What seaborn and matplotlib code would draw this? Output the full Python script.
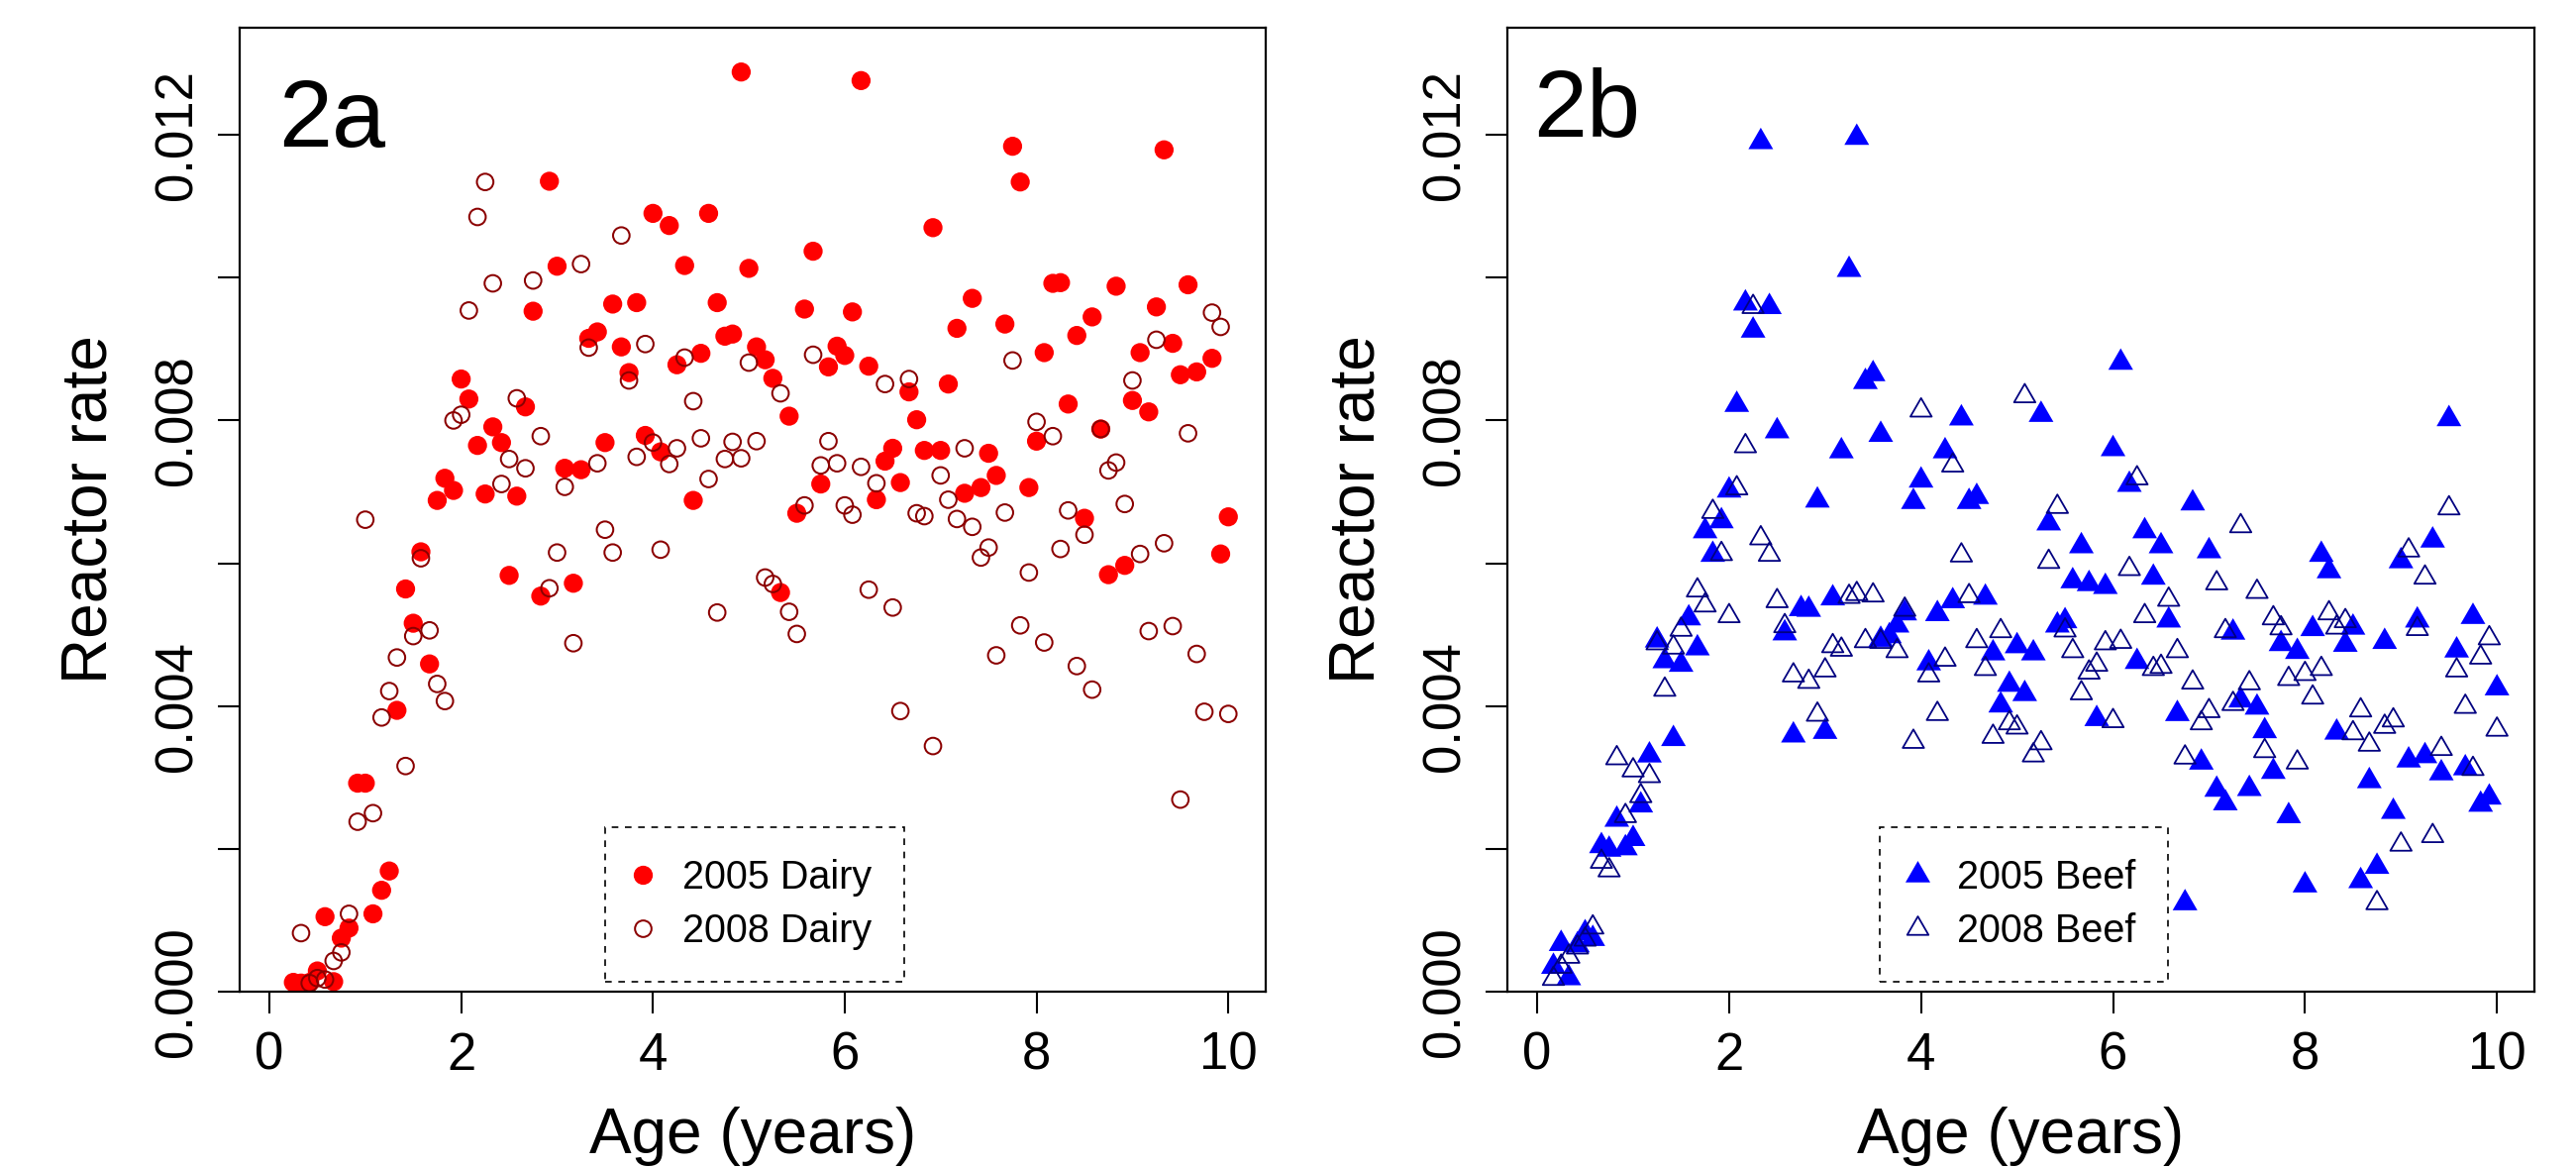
import numpy as np
import pandas as pd
import matplotlib
matplotlib.use("Agg")
import matplotlib.pyplot as plt
from matplotlib.lines import Line2D
from matplotlib.markers import MarkerStyle
from matplotlib.path import Path
import seaborn as sns

sns.set_style("ticks")
plt.rcParams['font.family'] = ['Liberation Sans', 'DejaVu Sans']
plt.rcParams.update({'text.color': 'black', 'axes.labelcolor': 'black',
                     'xtick.color': 'black', 'ytick.color': 'black',
                     'axes.edgecolor': 'black'})

# ---- data (rates read in units of 0.001) ----
dairy05_age = [0.25, 0.33, 0.42, 0.50, 0.58, 0.67, 0.75, 0.83, 0.92, 1.00,
               1.08, 1.17, 1.25, 1.33, 1.42, 1.50, 1.58, 1.67, 1.75, 1.83,
               1.92, 2.00, 2.08, 2.17, 2.25, 2.33, 2.42, 2.50, 2.58, 2.67,
               2.75, 2.83, 2.92, 3.00, 3.08, 3.17, 3.25, 3.33, 3.42, 3.50,
               3.58, 3.67, 3.75, 3.83, 3.92, 4.00, 4.08, 4.17, 4.25, 4.33,
               4.42, 4.50, 4.58, 4.67, 4.75, 4.83, 4.92, 5.00, 5.08, 5.17,
               5.25, 5.33, 5.42, 5.50, 5.58, 5.67, 5.75, 5.83, 5.92, 6.00,
               6.08, 6.17, 6.25, 6.33, 6.42, 6.50, 6.58, 6.67, 6.75, 6.83,
               6.92, 7.00, 7.08, 7.17, 7.25, 7.33, 7.42, 7.50, 7.58, 7.67,
               7.75, 7.83, 7.92, 8.00, 8.08, 8.17, 8.25, 8.33, 8.42, 8.50,
               8.58, 8.67, 8.75, 8.83, 8.92, 9.00, 9.08, 9.17, 9.25, 9.33,
               9.42, 9.50, 9.58, 9.67, 9.83, 9.92, 10.00]
dairy05_rate = [0.13, 0.12, 0.13, 0.29, 1.05, 0.14, 0.75, 0.89, 2.92, 2.92,
                1.09, 1.42, 1.69, 3.94, 5.64, 5.16, 6.16, 4.59, 6.88, 7.19,
                7.02, 8.58, 8.30, 7.65, 6.97, 7.91, 7.69, 5.83, 6.94, 8.19,
                9.53, 5.54, 11.35, 10.16, 7.33, 5.72, 7.31, 9.15, 9.24, 7.69,
                9.63, 9.03, 8.67, 9.65, 7.79, 10.90, 7.56, 10.73, 8.78, 10.17,
                6.88, 8.94, 10.90, 9.65, 9.18, 9.21, 12.88, 10.13, 9.03, 8.85,
                8.59, 5.59, 8.06, 6.70, 9.56, 10.37, 7.11, 8.75, 9.04, 8.91,
                9.52, 12.76, 8.76, 6.89, 7.43, 7.61, 7.13, 8.40, 8.01, 7.58,
                10.70, 7.58, 8.51, 9.29, 6.98, 9.71, 7.06, 7.54, 7.23, 9.35,
                11.84, 11.34, 7.06, 7.71, 8.95, 9.92, 9.93, 8.23, 9.19, 6.63,
                9.45, 7.88, 5.84, 9.88, 5.97, 8.28, 8.95, 8.12, 9.59, 11.79,
                9.08, 8.64, 9.90, 8.68, 8.87, 6.13, 6.65]

dairy08_age = [0.33, 0.42, 0.50, 0.58, 0.67, 0.75, 0.83, 0.92, 1.00, 1.08,
               1.17, 1.25, 1.33, 1.42, 1.50, 1.58, 1.67, 1.75, 1.83, 1.92,
               2.00, 2.08, 2.17, 2.25, 2.33, 2.42, 2.50, 2.58, 2.67, 2.75,
               2.83, 2.92, 3.00, 3.08, 3.17, 3.25, 3.33, 3.42, 3.50, 3.58,
               3.67, 3.75, 3.83, 3.92, 4.00, 4.08, 4.17, 4.25, 4.33, 4.42,
               4.50, 4.58, 4.67, 4.75, 4.83, 4.92, 5.00, 5.08, 5.17, 5.25,
               5.33, 5.42, 5.50, 5.58, 5.67, 5.75, 5.83, 5.92, 6.00, 6.08,
               6.17, 6.25, 6.33, 6.42, 6.50, 6.58, 6.67, 6.75, 6.83, 6.92,
               7.00, 7.08, 7.17, 7.25, 7.33, 7.42, 7.50, 7.58, 7.67, 7.75,
               7.83, 7.92, 8.00, 8.08, 8.17, 8.25, 8.33, 8.42, 8.50, 8.58,
               8.67, 8.75, 8.83, 8.92, 9.00, 9.08, 9.17, 9.25, 9.33, 9.42,
               9.50, 9.58, 9.67, 9.75, 9.83, 9.92, 10.00]
dairy08_rate = [0.82, 0.12, 0.19, 0.17, 0.43, 0.55, 1.09, 2.38, 6.61, 2.50,
                3.84, 4.21, 4.68, 3.16, 4.98, 6.07, 5.06, 4.31, 4.07, 8.00,
                8.08, 9.54, 10.85, 11.34, 9.92, 7.11, 7.46, 8.31, 7.33, 9.96,
                7.78, 5.65, 6.15, 7.07, 4.88, 10.19, 9.02, 7.40, 6.47, 6.15,
                10.59, 8.56, 7.49, 9.07, 7.69, 6.19, 7.39, 7.61, 8.88, 8.27,
                7.75, 7.18, 5.31, 7.46, 7.70, 7.47, 8.81, 7.71, 5.80, 5.71,
                8.38, 5.32, 5.01, 6.81, 8.92, 7.37, 7.71, 7.40, 6.81, 6.68,
                7.35, 5.63, 7.12, 8.51, 5.38, 3.93, 8.58, 6.70, 6.66, 3.44,
                7.23, 6.89, 6.62, 7.61, 6.51, 6.08, 6.22, 4.71, 6.71, 8.84,
                5.13, 5.87, 7.98, 4.89, 7.78, 6.20, 6.74, 4.56, 6.40, 4.23,
                7.88, 7.30, 7.41, 6.83, 8.56, 6.13, 5.05, 9.13, 6.28, 5.12,
                2.69, 7.82, 4.73, 3.92, 9.51, 9.31, 3.89]

beef05_age = [0.17, 0.25, 0.33, 0.42, 0.50, 0.58, 0.67, 0.75, 0.83, 0.92,
              1.00, 1.08, 1.17, 1.25, 1.33, 1.42, 1.50, 1.58, 1.67, 1.75,
              1.83, 1.92, 2.00, 2.08, 2.17, 2.25, 2.33, 2.42, 2.50, 2.58,
              2.67, 2.75, 2.83, 2.92, 3.00, 3.08, 3.17, 3.25, 3.33, 3.42,
              3.50, 3.58, 3.58, 3.67, 3.75, 3.83, 3.92, 4.00, 4.08, 4.17,
              4.25, 4.33, 4.42, 4.50, 4.58, 4.67, 4.75, 4.83, 4.92, 5.00,
              5.08, 5.17, 5.25, 5.33, 5.42, 5.50, 5.58, 5.67, 5.75, 5.83,
              5.92, 6.00, 6.08, 6.17, 6.25, 6.33, 6.42, 6.50, 6.58, 6.67,
              6.75, 6.83, 6.92, 7.00, 7.08, 7.17, 7.25, 7.33, 7.42, 7.50,
              7.58, 7.67, 7.75, 7.83, 7.92, 8.00, 8.08, 8.17, 8.25, 8.33,
              8.42, 8.50, 8.58, 8.67, 8.75, 8.83, 8.92, 9.00, 9.08, 9.17,
              9.25, 9.33, 9.42, 9.50, 9.58, 9.67, 9.75, 9.83, 9.92, 10.00]
beef05_rate = [0.35, 0.67, 0.19, 0.65, 0.82, 0.74, 2.04, 1.99, 2.41, 2.01,
               2.14, 2.61, 3.31, 4.92, 4.63, 3.54, 4.58, 5.23, 4.81, 6.45,
               6.12, 6.59, 7.02, 8.22, 9.64, 9.26, 11.90, 9.59, 7.85, 5.02,
               3.59, 5.36, 5.35, 6.88, 3.64, 5.51, 7.57, 10.11, 11.96, 8.54,
               8.65, 7.80, 4.93, 4.98, 5.13, 5.30, 6.86, 7.16, 4.60, 5.29,
               7.57, 5.47, 8.03, 6.86, 6.93, 5.52, 4.74, 4.01, 4.30, 4.84,
               4.17, 4.74, 8.08, 6.56, 5.13, 5.19, 5.75, 6.24, 5.71, 3.82,
               5.67, 7.60, 8.81, 7.10, 4.62, 6.45, 5.80, 6.24, 5.20, 3.89,
               1.24, 6.84, 3.21, 6.17, 2.83, 2.64, 5.03, 4.08, 2.84, 3.98,
               3.65, 3.08, 4.87, 2.46, 4.76, 1.49, 5.08, 6.12, 5.89, 3.63,
               4.86, 5.10, 1.55, 2.95, 1.75, 4.90, 2.52, 6.03, 3.24, 5.20,
               3.30, 6.32, 3.06, 8.02, 4.78, 3.13, 5.25, 2.62, 2.72, 4.25]

beef08_age = [0.17, 0.25, 0.33, 0.42, 0.50, 0.58, 0.67, 0.75, 0.83, 0.92,
              1.00, 1.08, 1.17, 1.25, 1.33, 1.42, 1.50, 1.67, 1.75, 1.83,
              1.92, 2.00, 2.08, 2.17, 2.25, 2.33, 2.42, 2.50, 2.58, 2.67,
              2.83, 2.92, 3.00, 3.08, 3.17, 3.25, 3.33, 3.42, 3.50, 3.58,
              3.75, 3.83, 3.92, 4.00, 4.08, 4.17, 4.25, 4.33, 4.42, 4.50,
              4.58, 4.67, 4.75, 4.83, 4.92, 5.00, 5.08, 5.17, 5.25, 5.33,
              5.42, 5.50, 5.58, 5.67, 5.75, 5.83, 5.92, 6.00, 6.08, 6.17,
              6.25, 6.33, 6.42, 6.50, 6.58, 6.67, 6.75, 6.83, 6.92, 7.00,
              7.08, 7.17, 7.25, 7.33, 7.42, 7.50, 7.58, 7.67, 7.75, 7.83,
              7.92, 8.00, 8.08, 8.17, 8.25, 8.33, 8.42, 8.50, 8.58, 8.67,
              8.75, 8.83, 8.92, 9.00, 9.08, 9.17, 9.25, 9.33, 9.42, 9.50,
              9.58, 9.67, 9.75, 9.83, 9.92, 10.00]
beef08_rate = [0.18, 0.35, 0.49, 0.62, 0.73, 0.90, 1.82, 1.70, 3.27, 2.46,
               3.10, 2.74, 3.02, 4.88, 4.23, 4.82, 5.07, 5.62, 5.41, 6.72,
               6.13, 5.26, 7.05, 7.64, 9.59, 6.35, 6.12, 5.47, 5.12, 4.43,
               4.34, 3.88, 4.50, 4.84, 4.79, 5.53, 5.57, 4.91, 5.55, 4.90,
               4.77, 5.35, 3.50, 8.14, 4.43, 3.89, 4.65, 7.37, 6.11, 5.54,
               4.91, 4.52, 3.57, 5.05, 3.76, 3.70, 8.34, 3.31, 3.48, 6.02,
               6.79, 5.06, 4.77, 4.18, 4.47, 4.58, 4.88, 3.79, 4.90, 5.92,
               7.19, 5.26, 4.52, 4.55, 5.49, 4.77, 3.28, 4.33, 3.76, 3.93,
               5.72, 5.05, 4.03, 6.52, 4.32, 5.60, 3.37, 5.23, 5.09, 4.38,
               3.21, 4.45, 4.12, 4.52, 5.30, 5.10, 5.19, 3.62, 3.94, 3.46,
               1.24, 3.71, 3.80, 2.06, 6.18, 5.08, 5.80, 2.18, 3.40, 6.77,
               4.50, 3.99, 3.12, 4.68, 4.95, 3.67]

x_ticks = [0, 2, 4, 6, 8, 10]
y_major = [0.000, 0.004, 0.008, 0.012]
y_minor = [0.002, 0.006, 0.010]


def frame(age, rate):
    return pd.DataFrame({"age": age, "rate": np.array(rate) / 1000})


# triangle with its centroid on the data point (like R's pch 2 / 17)
tri = MarkerStyle(Path([(0, 1), (-0.866, -0.5), (0.866, -0.5), (0, 1)], closed=True))

W, H = 2601, 1179
fig = plt.figure(figsize=(W / 100, H / 100), dpi=100)
ax_a = fig.add_axes([242 / W, 1 - 1001 / H, 1036 / W, 973 / H])
ax_b = fig.add_axes([1522 / W, 1 - 1001 / H, 1037 / W, 973 / H])

# panel a: dairy
sns.scatterplot(data=frame(dairy05_age, dairy05_rate), x="age", y="rate", ax=ax_a,
                marker="o", s=193, color="#FF0000", edgecolor="none", linewidth=0)
sns.scatterplot(data=frame(dairy08_age, dairy08_rate), x="age", y="rate", ax=ax_a,
                marker="o", s=144, facecolor="none", edgecolor="#8B0000", linewidth=1.45)

# panel b: beef
sns.scatterplot(data=frame(beef05_age, beef05_rate), x="age", y="rate", ax=ax_b,
                marker=tri, s=433, color="#0000FF", edgecolor="none", linewidth=0)
sns.scatterplot(data=frame(beef08_age, beef08_rate), x="age", y="rate", ax=ax_b,
                marker=tri, s=320, facecolor="none", edgecolor="#000080", linewidth=1.3)

for ax in (ax_a, ax_b):
    ax.set_xlim(-0.31, 10.39)
    ax.set_ylim(0, 0.0135)
    ax.set_xticks(x_ticks, labels=[str(v) for v in x_ticks])
    ax.set_yticks(y_major, labels=["%.3f" % v for v in y_major], rotation=90, va="center")
    ax.set_yticks(y_minor, minor=True)
    ax.tick_params(axis="both", which="both", direction="out", length=15.8, width=1.5,
                   color="black", bottom=True, left=True)
    ax.tick_params(axis="x", labelsize=38, pad=13)
    ax.tick_params(axis="y", labelsize=38, pad=11)
    for sp in ax.spines.values():
        sp.set_visible(True)
        sp.set_linewidth(1.6)
        sp.set_color("black")
    ax.set_xlabel("Age (years)", fontsize=46, labelpad=19)
    ax.set_ylabel("Reactor rate", fontsize=46, labelpad=25)

ax_a.text(0.0376, 0.8767, "2a", transform=ax_a.transAxes, fontsize=70,
          ha="left", va="baseline")
ax_b.text(0.025, 0.887, "2b", transform=ax_b.transAxes, fontsize=70,
          ha="left", va="baseline")

handles_a = [
    Line2D([], [], linestyle="none", marker="o", markersize=13.9,
           markerfacecolor="#FF0000", markeredgewidth=0, label="2005 Dairy"),
    Line2D([], [], linestyle="none", marker="o", markersize=12,
           markerfacecolor="none", markeredgecolor="#8B0000", markeredgewidth=1.45,
           label="2008 Dairy"),
]
handles_b = [
    Line2D([], [], linestyle="none", marker=tri, markersize=20.8,
           markerfacecolor="#0000FF", markeredgewidth=0, label="2005 Beef"),
    Line2D([], [], linestyle="none", marker=tri, markersize=17.9,
           markerfacecolor="none", markeredgecolor="#000080", markeredgewidth=1.3,
           label="2008 Beef"),
]

for ax, handles, x0 in ((ax_a, handles_a, 0.356), (ax_b, handles_b, 0.3626)):
    leg = ax.legend(handles=handles, loc="lower left", bbox_to_anchor=(x0, 0.0103),
                    borderaxespad=0, fontsize=28.5, frameon=True, fancybox=False,
                    borderpad=0.82, labelspacing=0.39, handlelength=0.28,
                    handletextpad=0.87)
    fr = leg.get_frame()
    fr.set_edgecolor("black")
    fr.set_linewidth(1.2)
    fr.set_linestyle((0, (4, 4)))
    fr.set_facecolor("white")
    fr.set_alpha(None)

fig.savefig("out.png", dpi=100)
